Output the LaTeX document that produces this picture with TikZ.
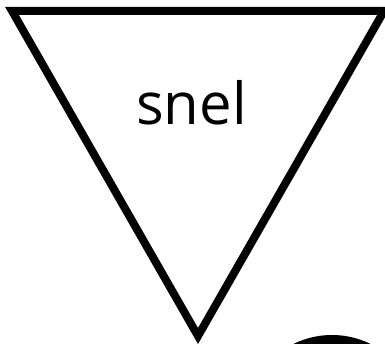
\documentclass[tikz,border=0pt]{standalone}
\usepackage{fontspec}
\newfontfamily\labelfont{Open Sans}
\begin{document}
\begin{tikzpicture}[x=1pt,y=-1pt,
  tri/.style={draw=black,line width=8pt,line join=miter,fill=white},
  lbl/.style={font=\labelfont\fontsize{58}{70}\selectfont,anchor=base,inner sep=0pt},
  blob/.style={fill=black}]
\useasboundingbox (0,0) rectangle (385,344);
\clip (0,0) rectangle (385,344);
\coordinate (tl) at (12,11);
\coordinate (tr) at (384,11);
\coordinate (bt) at (198,336);
\draw[tri] (tl) -- (tr) -- (bt) -- cycle;
\node[lbl] (snel) at (191.5,125) {snel};
\fill[blob] (332,422) circle[radius=87];
\end{tikzpicture}
\end{document}
